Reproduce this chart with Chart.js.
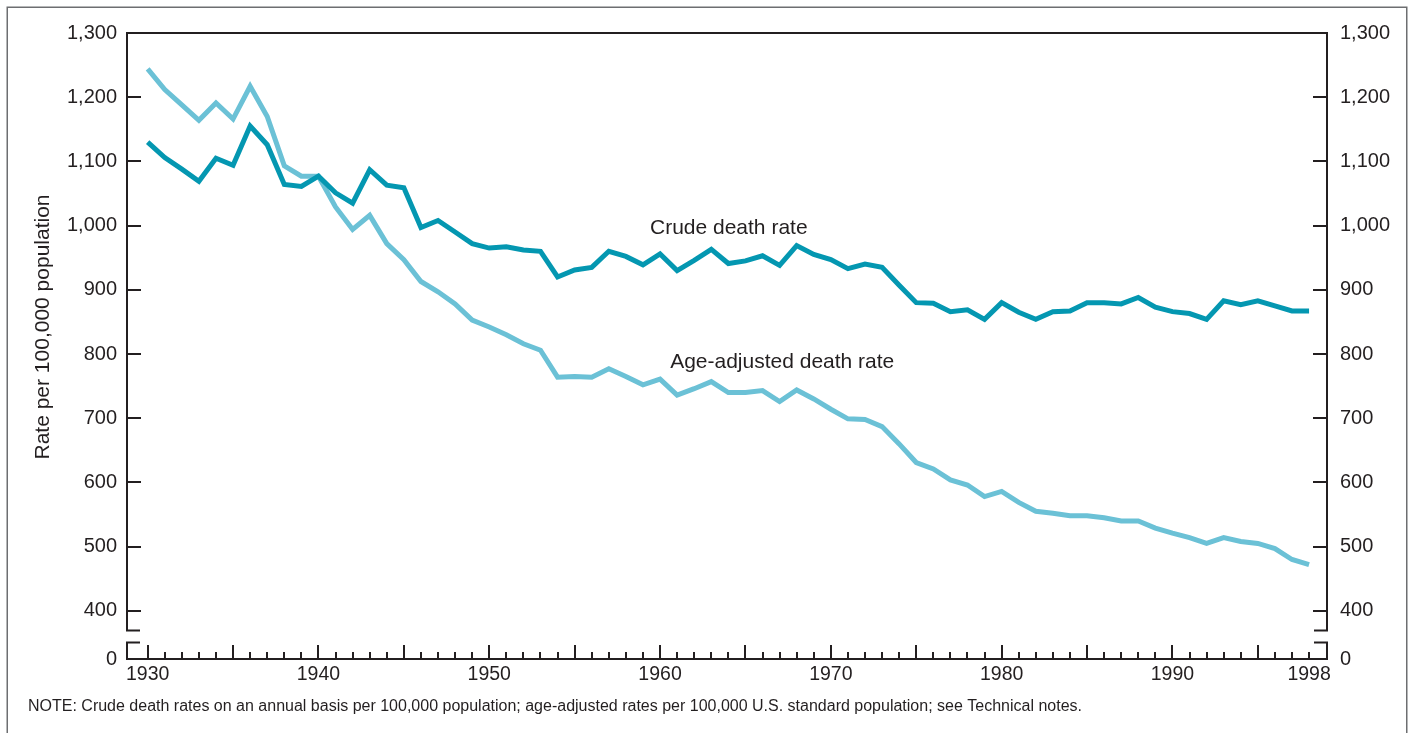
<!DOCTYPE html>
<html><head><meta charset="utf-8">
<script src="https://cdn.jsdelivr.net/npm/chart.js@4.4.1/dist/chart.umd.min.js"></script>
<style>html,body{margin:0;padding:0;background:#fff;overflow:hidden}#wrap{width:1411px;height:733px;position:relative}</style>
</head><body><div id="wrap"><canvas id="c" width="1411" height="733"></canvas></div>
<script>
const years = [1930,1931,1932,1933,1934,1935,1936,1937,1938,1939,
  1940,1941,1942,1943,1944,1945,1946,1947,1948,1949,
  1950,1951,1952,1953,1954,1955,1956,1957,1958,1959,
  1960,1961,1962,1963,1964,1965,1966,1967,1968,1969,
  1970,1971,1972,1973,1974,1975,1976,1977,1978,1979,
  1980,1981,1982,1983,1984,1985,1986,1987,1988,1989,
  1990,1991,1992,1993,1994,1995,1996,1997,1998];
const crudeRate = [1130,1106,1088,1069,1105,1094,1155,1126,1064,1061,
  1077,1051,1035,1087,1063,1059,997,1008,990,972,
  965,967,962,960,920,931,935,960,952,939,
  956,930,946,963,941,945,953,938,969,955,
  947,933,940,935,907,880,879,866,869,854,
  880,865,854,866,867,880,880,878,888,873,
  866,863,854,883,877,883,875,867,867];
const ageAdjustedRate = [1244,1212,1188,1164,1191,1166,1217,1170,1093,1077,
  1077,1029,994,1016,972,947,913,897,878,853,
  842,830,816,806,764,765,764,777,765,752,
  761,736,746,757,740,740,743,726,744,730,
  714,699,698,687,660,631,621,604,596,578,
  586,569,555,552,548,548,545,540,540,529,
  521,514,505,514,508,505,497,480,472];
const yTickValues = [400,500,600,700,800,900,1000,1100,1200,1300];
const xTickYears = [1930,1940,1950,1960,1970,1980,1990,1998];
const Y_FLOOR = 325;   // broken-axis floor, labelled "0"
const Y_BREAK_LABEL = '0';

const INK = '#231f20';
const FONT = '"Liberation Sans", Arial, Helvetica, sans-serif';
const CRUDE_COLOR = '#0497b1';
const ADJ_COLOR = '#6bc1d6';

function yTicks(s){ s.ticks = [{value:Y_FLOOR}].concat(yTickValues.map(v=>({value:v}))); }
function yLabel(v){ return v===Y_FLOOR ? Y_BREAK_LABEL : Number(v).toLocaleString('en-US'); }

const decor = {
  id:'decor',
  afterDraw(chart){
    const ctx = chart.ctx, x = chart.scales.x, y = chart.scales.y;
    const L = chart.chartArea.left, R = chart.chartArea.right, T = chart.chartArea.top, B = chart.chartArea.bottom;
    ctx.save();
    // outer frame
    ctx.strokeStyle = '#6d6e71'; ctx.lineWidth = 1.5;
    ctx.strokeRect(7.25, 7.25, 1399.5, 800);
    // axes
    ctx.strokeStyle = INK; ctx.lineWidth = 2; ctx.lineCap = 'butt';
    const brkTop = 630.5, brkBot = 642.5, cap = 13;
    ctx.beginPath();
    ctx.moveTo(L-1, T); ctx.lineTo(R+1, T);
    ctx.moveTo(L, T); ctx.lineTo(L, brkTop); ctx.lineTo(L+cap, brkTop);
    ctx.moveTo(L+cap, brkBot); ctx.lineTo(L, brkBot); ctx.lineTo(L, B+1);
    ctx.moveTo(R, T); ctx.lineTo(R, brkTop); ctx.lineTo(R-cap, brkTop);
    ctx.moveTo(R-cap, brkBot); ctx.lineTo(R, brkBot); ctx.lineTo(R, B+1);
    ctx.moveTo(L-1, B); ctx.lineTo(R+1, B);
    ctx.stroke();
    // y ticks (inward)
    ctx.beginPath();
    yTickValues.forEach(v=>{
      if (v===1300) return;
      const py = Math.round(y.getPixelForValue(v));
      ctx.moveTo(L, py); ctx.lineTo(L+14, py);
      ctx.moveTo(R, py); ctx.lineTo(R-14, py);
    });
    ctx.stroke();
    // x ticks (inward), every year, longer every 5
    ctx.beginPath();
    years.forEach(yr=>{
      const px = Math.round(x.getPixelForValue(yr));
      const len = (yr % 5 === 0) ? 14 : 7;
      ctx.moveTo(px, B); ctx.lineTo(px, B-len);
    });
    ctx.stroke();
    // y axis title
    ctx.fillStyle = INK;
    ctx.font = '21px ' + FONT;
    ctx.textAlign = 'center'; ctx.textBaseline = 'middle';
    ctx.save(); ctx.translate(43, 327); ctx.rotate(-Math.PI/2);
    ctx.fillText('Rate per 100,000 population', 0, 0);
    ctx.restore();
    // series labels
    ctx.textAlign = 'left'; ctx.textBaseline = 'middle';
    ctx.fillText('Crude death rate', x.getPixelForValue(1959.41), y.getPixelForValue(996));
    ctx.fillText('Age-adjusted death rate', x.getPixelForValue(1960.59), y.getPixelForValue(787));
    // note
    ctx.font = '16px ' + FONT; ctx.textBaseline = 'alphabetic';
    ctx.fillText('NOTE: Crude death rates on an annual basis per 100,000 population; age-adjusted rates per 100,000 U.S. standard population; see Technical notes.', 28, 711);
    ctx.restore();
  }
};

const tickFont = {family: FONT, size: 20};
new Chart(document.getElementById('c'), {
  type:'line',
  data:{
    datasets:[
      {label:'Crude death rate', data: years.map((yr,i)=>({x:yr, y:crudeRate[i]})),
       borderColor: CRUDE_COLOR, borderWidth: 5, pointRadius: 0, tension: 0, fill:false},
      {label:'Age-adjusted death rate', data: years.map((yr,i)=>({x:yr, y:ageAdjustedRate[i]})),
       borderColor: ADJ_COLOR, borderWidth: 5, pointRadius: 0, tension: 0, fill:false}
    ]
  },
  options:{
    responsive:false, animation:false, devicePixelRatio:1,
    layout:{padding:{top:33, left:0, right:0, bottom:0}},
    plugins:{legend:{display:false}, tooltip:{enabled:false}, title:{display:false}},
    scales:{
      x:{type:'linear', min:1928.79, max:1999.05,
        afterBuildTicks: s=>{ s.ticks = xTickYears.map(v=>({value:v})); },
        ticks:{font:{family:FONT, size:19.5}, color:INK, padding:4, maxRotation:0, autoSkip:false, callback:v=>String(v)},
        grid:{display:false, drawTicks:false}, border:{display:false},
        afterFit: s=>{ s.height = 74; }},
      y:{type:'linear', position:'left', min:Y_FLOOR, max:1300,
        afterBuildTicks: yTicks,
        ticks:{font:tickFont, color:INK, padding:10, autoSkip:false, callback:yLabel},
        grid:{display:false, drawTicks:false}, border:{display:false},
        afterFit: s=>{ s.width = 127; }},
      y2:{type:'linear', position:'right', display:true, min:Y_FLOOR, max:1300,
        afterBuildTicks: yTicks,
        ticks:{font:tickFont, color:INK, padding:13, autoSkip:false, callback:yLabel},
        grid:{display:false, drawTicks:false}, border:{display:false},
        afterFit: s=>{ s.width = 84; }}
    }
  },
  plugins:[decor]
});
</script></body></html>
